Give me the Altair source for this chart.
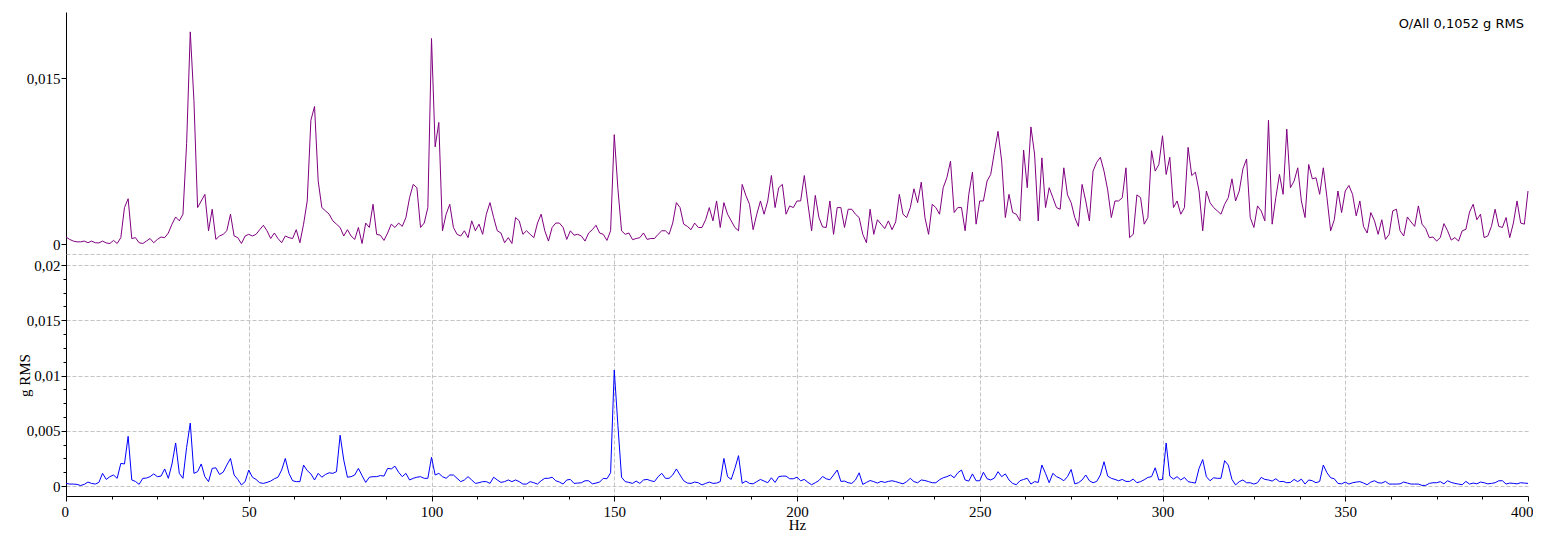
import altair as alt
import pandas as pd

# ---------------- data (1 Hz bins) ----------------
freq_hz = list(range(0, 401))

# upper trace, values in milli-g RMS
top_mg = [
    0.64, 0.42, 0.27, 0.2, 0.2, 0.27, 0.12, 0.27, 0.12, 0.1,          # 0-9
    0.27, 0.1, 0.05, 0.33, 0.05, 0.58, 3.3, 4.1, 0.5, 0.58,           # 10-19
    0.12, 0.05, 0.27, 0.5, 0.12, 0.42, 0.64, 0.58, 1.0, 1.8,          # 20-29
    2.45, 2.1, 2.7, 9.1, 19.2, 13.0, 3.3, 3.9, 4.5, 1.2,              # 30-39
    3.15, 0.42, 0.73, 0.88, 1.2, 2.7, 0.73, 0.58, 0.05, 0.73,         # 40-49
    0.88, 0.73, 0.88, 1.3, 1.7, 1.2, 0.5, 1.0, 0.5, 0.12,             # 50-59
    0.73, 0.58, 0.5, 1.3, 0.12, 1.8, 3.9, 11.2, 12.45, 5.7,           # 60-69
    3.3, 3.0, 2.7, 2.1, 1.8, 1.5, 0.73, 1.3, 0.73, 0.42,              # 70-79
    1.5, 0.05, 1.9, 1.5, 3.6, 0.88, 0.8, 0.33, 1.0, 1.8,              # 80-89
    1.5, 1.9, 1.6, 2.4, 4.2, 5.4, 5.1, 1.5, 1.9, 3.3,                 # 90-99
    18.6, 8.8, 11.0, 1.2, 2.7, 3.6, 1.5, 0.88, 0.73, 1.2,             # 100-109
    0.58, 2.1, 1.2, 1.8, 0.88, 2.7, 3.75, 2.4, 1.2, 1.0,              # 110-119
    0.12, 0.58, 0.05, 2.4, 2.1, 0.88, 1.2, 0.88, 0.58, 1.9,           # 120-129
    2.7, 1.2, 0.27, 1.5, 1.9, 1.9, 1.5, 0.42, 1.2, 0.8,               # 130-139
    0.88, 0.73, 0.27, 1.0, 1.3, 1.7, 1.0, 0.88, 0.33, 1.2,            # 140-149
    9.9, 5.0, 1.2, 0.88, 1.0, 0.4, 0.5, 0.58, 1.0, 0.42,              # 150-159
    0.5, 0.5, 0.88, 1.2, 1.2, 0.88, 1.9, 3.75, 3.3, 1.8,              # 160-169
    1.6, 1.3, 1.9, 1.5, 1.5, 2.2, 3.3, 2.1, 3.9, 1.5,                 # 170-179
    3.75, 2.7, 2.1, 1.5, 1.2, 5.4, 4.4, 3.6, 1.3, 2.7,                # 180-189
    3.9, 2.7, 3.9, 6.2, 3.3, 5.1, 5.4, 2.7, 3.45, 3.3,                # 190-199
    3.9, 3.9, 6.2, 3.6, 1.2, 4.4, 2.4, 1.55, 1.5, 3.9,                # 200-209
    0.88, 3.3, 3.3, 1.5, 3.15, 3.15, 2.7, 2.4, 0.88, 0.12,            # 210-219
    3.15, 0.88, 2.2, 1.8, 1.4, 2.1, 1.3, 2.0, 4.5, 2.7,               # 220-229
    2.4, 3.3, 5.0, 3.75, 5.6, 2.4, 0.88, 3.6, 3.3, 2.7,               # 230-239
    5.1, 6.0, 7.5, 2.85, 3.3, 3.3, 1.2, 4.5, 6.5, 1.8,                # 240-249
    3.9, 3.9, 5.7, 6.3, 8.3, 10.2, 7.5, 2.4, 4.5, 2.85,               # 250-259
    2.7, 2.1, 8.5, 5.1, 10.6, 8.15, 2.1, 7.8, 3.3, 5.1,               # 260-269
    4.2, 3.3, 3.15, 6.9, 4.45, 3.75, 2.4, 1.6, 5.4, 3.9,              # 270-279
    2.1, 6.6, 7.4, 7.85, 6.6, 4.9, 2.4, 3.9, 3.9, 4.2,                # 280-289
    6.9, 0.58, 0.88, 4.45, 4.2, 1.8, 2.4, 8.45, 6.6, 7.2,             # 290-299
    9.8, 6.3, 7.85, 3.3, 3.9, 2.7, 3.3, 8.75, 6.2, 6.5,               # 300-309
    4.8, 1.2, 4.8, 3.75, 3.3, 3.0, 2.7, 3.6, 4.2, 5.9,                # 310-319
    3.9, 4.8, 6.8, 7.7, 2.4, 1.5, 3.45, 3.0, 2.1, 11.2,               # 320-329
    1.8, 4.2, 6.3, 4.5, 10.4, 5.1, 5.7, 6.9, 3.9, 2.4,                # 330-339
    7.2, 5.9, 6.0, 4.5, 6.9, 4.2, 1.2, 2.2, 4.8, 2.85,                # 340-349
    4.8, 5.3, 4.5, 2.55, 3.9, 1.6, 1.0, 2.85, 2.1, 0.88,              # 350-359
    2.2, 0.42, 0.88, 3.0, 3.15, 1.2, 0.73, 2.45, 2.0, 1.6,            # 360-369
    3.45, 1.8, 1.4, 0.58, 0.64, 0.27, 0.58, 1.85, 1.2, 0.36,          # 370-379
    0.58, 0.27, 1.2, 1.33, 2.9, 3.6, 2.2, 2.7, 0.58, 0.73,            # 380-389
    1.6, 3.15, 1.6, 1.5, 2.4, 0.58, 1.9, 3.9, 1.9, 1.8,               # 390-399
    4.8,                                                              # 400
]

# lower trace, values in milli-g RMS
bottom_mg = [
    0.24, 0.18, 0.18, 0.15, 0.05, 0.15, 0.36, 0.24, 0.18, 0.33,       # 0-9
    1.15, 0.6, 0.85, 1.0, 0.7, 2.05, 2.0, 4.5, 0.55, 0.42,            # 10-19
    0.15, 0.7, 0.72, 0.85, 1.1, 0.85, 0.9, 1.55, 0.7, 2.0,            # 20-29
    3.9, 1.15, 0.7, 3.5, 5.7, 1.15, 1.3, 2.0, 0.85, 0.4,              # 30-39
    1.6, 1.65, 1.05, 1.25, 1.9, 2.5, 1.0, 0.6, 0.1, 0.4,              # 40-49
    1.45, 0.8, 0.6, 0.3, 0.24, 0.33, 0.45, 0.66, 0.8, 1.45,           # 50-59
    2.5, 1.15, 0.48, 0.4, 0.4, 1.9, 1.4, 1.1, 0.55, 1.15,             # 60-69
    0.8, 1.05, 1.2, 1.15, 1.3, 4.6, 2.35, 0.8, 0.85, 1.0,             # 70-79
    1.6, 0.95, 0.33, 0.8, 0.85, 0.85, 0.95, 0.9, 1.6, 1.55,           # 80-89
    1.8, 1.25, 0.85, 1.15, 0.55, 0.7, 0.8, 0.85, 0.7, 0.7,            # 90-99
    2.6, 1.0, 1.15, 0.85, 0.7, 1.0, 1.0, 0.7, 0.4, 0.55,              # 100-109
    0.85, 0.55, 0.24, 0.3, 0.4, 0.4, 0.24, 0.8, 0.55, 0.33,           # 110-119
    0.4, 0.55, 0.4, 0.55, 0.4, 0.18, 0.18, 0.4, 0.3, 0.18,            # 120-129
    0.48, 0.7, 0.7, 0.8, 0.48, 0.36, 0.18, 0.55, 0.6, 0.24,           # 130-139
    0.27, 0.3, 0.48, 0.48, 0.2, 0.27, 0.36, 0.7, 0.66, 1.2,           # 140-149
    10.5, 5.5, 0.8, 0.4, 0.33, 0.24, 0.45, 0.24, 0.55, 0.6,           # 150-159
    0.48, 0.4, 0.85, 1.15, 0.7, 0.7, 1.0, 1.55, 1.0, 0.48,            # 160-169
    0.27, 0.24, 0.36, 0.3, 0.1, 0.24, 0.36, 0.24, 0.27, 0.4,          # 170-179
    2.5, 0.85, 0.6, 1.6, 2.75, 0.24, 0.45, 0.24, 0.2, 0.4,            # 180-189
    0.6, 0.45, 0.3, 0.75, 0.33, 0.85, 0.9, 0.9, 0.66, 0.66,           # 190-199
    0.8, 0.48, 0.6, 0.33, 0.12, 0.3, 0.5, 0.87, 0.66, 0.57,           # 200-209
    1.0, 1.45, 0.42, 0.45, 0.3, 0.24, 0.55, 1.2, 0.15, 0.33,          # 210-219
    0.5, 0.4, 0.27, 0.42, 0.33, 0.42, 0.48, 0.4, 0.3, 0.2,            # 220-229
    0.4, 0.7, 0.4, 0.3, 0.55, 0.5, 0.4, 0.3, 0.3, 0.57,               # 230-239
    0.75, 0.85, 1.0, 0.75, 1.2, 1.45, 0.55, 0.45, 1.1, 0.48,          # 240-249
    0.48, 1.25, 0.66, 0.55, 0.72, 1.3, 0.85, 1.1, 0.55, 0.24,         # 250-259
    0.12, 0.48, 0.6, 0.7, 0.18, 0.4, 0.33, 1.9, 1.15, 0.3,            # 260-269
    1.15, 0.85, 0.7, 0.48, 0.85, 1.5, 0.2, 0.3, 0.55, 1.0,            # 270-279
    0.48, 0.3, 0.42, 1.0, 2.2, 0.9, 0.7, 0.6, 0.48, 0.6,              # 280-289
    0.42, 0.42, 0.63, 0.3, 0.4, 0.57, 0.78, 0.85, 1.65, 0.55,         # 290-299
    0.6, 3.9, 0.9, 0.63, 0.85, 0.55, 0.78, 0.4, 0.33, 0.27,           # 300-309
    1.6, 2.4, 0.85, 0.48, 0.75, 0.7, 0.7, 2.3, 1.9, 0.6,              # 310-319
    0.1, 0.4, 0.55, 0.3, 0.3, 0.18, 0.3, 0.78, 0.6, 0.55,             # 320-329
    0.45, 0.66, 0.4, 0.42, 0.3, 0.33, 0.6, 0.4, 0.63, 0.18,           # 330-339
    0.55, 0.48, 0.3, 0.42, 1.9, 1.2, 0.75, 0.66, 0.24, 0.2,           # 340-349
    0.36, 0.18, 0.3, 0.36, 0.4, 0.27, 0.12, 0.36, 0.48, 0.3,          # 350-359
    0.27, 0.42, 0.18, 0.18, 0.18, 0.2, 0.36, 0.27, 0.18, 0.18,        # 360-369
    0.18, 0.06, 0.06, 0.24, 0.3, 0.3, 0.4, 0.2, 0.48, 0.33,           # 370-379
    0.24, 0.18, 0.12, 0.42, 0.18, 0.27, 0.2, 0.36, 0.3, 0.2,          # 380-389
    0.24, 0.3, 0.48, 0.48, 0.18, 0.27, 0.24, 0.2, 0.3, 0.27,          # 390-399
    0.24,                                                             # 400
]

overall_text = "O/All 0,1052 g RMS"
x_title = "Hz"
y_title = "g RMS"
x_major = [0, 50, 100, 150, 200, 250, 300, 350, 400]
x_grid = [50, 100, 150, 200, 250, 300, 350]
x_minor = [12.5, 25, 37.5, 62.5, 75, 87.5, 112.5, 125, 137.5, 162.5, 175, 187.5,
           212.5, 225, 237.5, 262.5, 275, 287.5, 312.5, 325, 337.5, 362.5, 375, 387.5]
y_major_top = [0, 0.015]
y_major_bottom = [0, 0.005, 0.01, 0.015, 0.02]
y_grid_bottom = [0, 0.005, 0.01, 0.015, 0.02, 0.021]
y_minor_bottom = [0.00125, 0.0025, 0.00375, 0.00625, 0.0075, 0.00875,
                  0.01125, 0.0125, 0.01375, 0.01625, 0.0175, 0.01875, 0.02]

assert len(top_mg) == len(freq_hz) and len(bottom_mg) == len(freq_hz)

df_top = pd.DataFrame({"f": freq_hz, "g": [v / 1000.0 for v in top_mg]})
df_bot = pd.DataFrame({"f": freq_hz, "g": [v / 1000.0 for v in bottom_mg]})

# ---------------- styling ----------------
SERIF = "Liberation Serif"
W, H = 1462, 242
X_DOM = [0, 400]
Y_DOM = [-0.0009, 0.021]
LBL = "replace(toString(datum.value), '.', ',')"
GRID_COLOR = "#c4c4c4"
GRID_DASH = [4, 2]

xs = alt.Scale(domain=X_DOM, nice=False, zero=False)
ys = alt.Scale(domain=Y_DOM, nice=False, zero=False)

# ---------------- upper panel ----------------
top_line = alt.Chart(df_top).mark_line(color="#800080", strokeWidth=1).encode(
    x=alt.X("f:Q", scale=xs, axis=None),
    y=alt.Y("g:Q", scale=ys, axis=alt.Axis(
        values=y_major_top, labelExpr=LBL, title=None, grid=False, orient="left",
        tickSize=5, tickColor="black", domainColor="black", labelColor="black",
        labelFont=SERIF, labelFontSize=15, labelPadding=1)),
)
annotation = alt.Chart(pd.DataFrame({"t": [overall_text]})).mark_text(
    align="right", baseline="alphabetic", font="DejaVu Sans", fontSize=13, color="black"
).encode(text="t:N", x=alt.value(W - 4), y=alt.value(16))

top = alt.layer(top_line, annotation).properties(width=W, height=H)

# ---------------- lower panel ----------------
grid_layer = alt.Chart(df_bot).mark_line(strokeOpacity=0).encode(
    x=alt.X("f:Q", scale=xs, axis=alt.Axis(
        values=x_grid, grid=True, gridDash=GRID_DASH, gridColor=GRID_COLOR, gridWidth=1,
        labels=False, ticks=False, domain=False, title=None, orient="bottom")),
    y=alt.Y("g:Q", scale=ys, axis=alt.Axis(
        values=y_grid_bottom, grid=True, gridDash=GRID_DASH, gridColor=GRID_COLOR, gridWidth=1,
        labels=False, ticks=False, domain=False, title=None, orient="left")),
)
minor_layer = alt.Chart(df_bot).mark_line(strokeOpacity=0).encode(
    x=alt.X("f:Q", scale=xs, axis=alt.Axis(
        values=x_minor, grid=False, labels=False, ticks=True, tickSize=3, tickColor="black",
        domain=False, title=None, orient="bottom")),
    y=alt.Y("g:Q", scale=ys, axis=alt.Axis(
        values=y_minor_bottom, grid=False, labels=False, ticks=True, tickSize=3, tickColor="black",
        domain=False, title=None, orient="left")),
)
bottom_line = alt.Chart(df_bot).mark_line(color="#0000ff", strokeWidth=1).encode(
    x=alt.X("f:Q", scale=xs, axis=alt.Axis(
        values=x_major, title=x_title, grid=False, orient="bottom", tickSize=5,
        tickColor="black", domainColor="black", labelColor="black",
        labelFlush=True, labelFlushOffset=5,
        labelOverlap=False, labelFont=SERIF, labelFontSize=15, labelPadding=3,
        titleFont=SERIF, titleFontSize=15, titleFontWeight="normal", titleColor="black",
        titlePadding=-2)),
    y=alt.Y("g:Q", scale=ys, axis=alt.Axis(
        values=y_major_bottom, labelExpr=LBL, title=y_title, grid=False, orient="left",
        tickSize=5, tickColor="black", domainColor="black", labelColor="black",
        labelFont=SERIF, labelFontSize=15, labelPadding=1,
        titleFont=SERIF, titleFontSize=15, titleFontWeight="normal", titleColor="black",
        titleAngle=-90, titleAlign="center", titleBaseline="middle",
        titleX=-42, titleY=121)),
)

bottom = alt.layer(grid_layer, minor_layer, bottom_line).resolve_axis(
    x="independent", y="independent").properties(width=W, height=H)

chart = alt.vconcat(top, bottom, spacing=0, bounds="flush").properties(
    padding={"left": 9, "top": 4, "right": 0, "bottom": 1},
    background="white",
).configure_view(stroke=None)

chart.save("out.html", embed_options={"renderer": "svg", "actions": False})
